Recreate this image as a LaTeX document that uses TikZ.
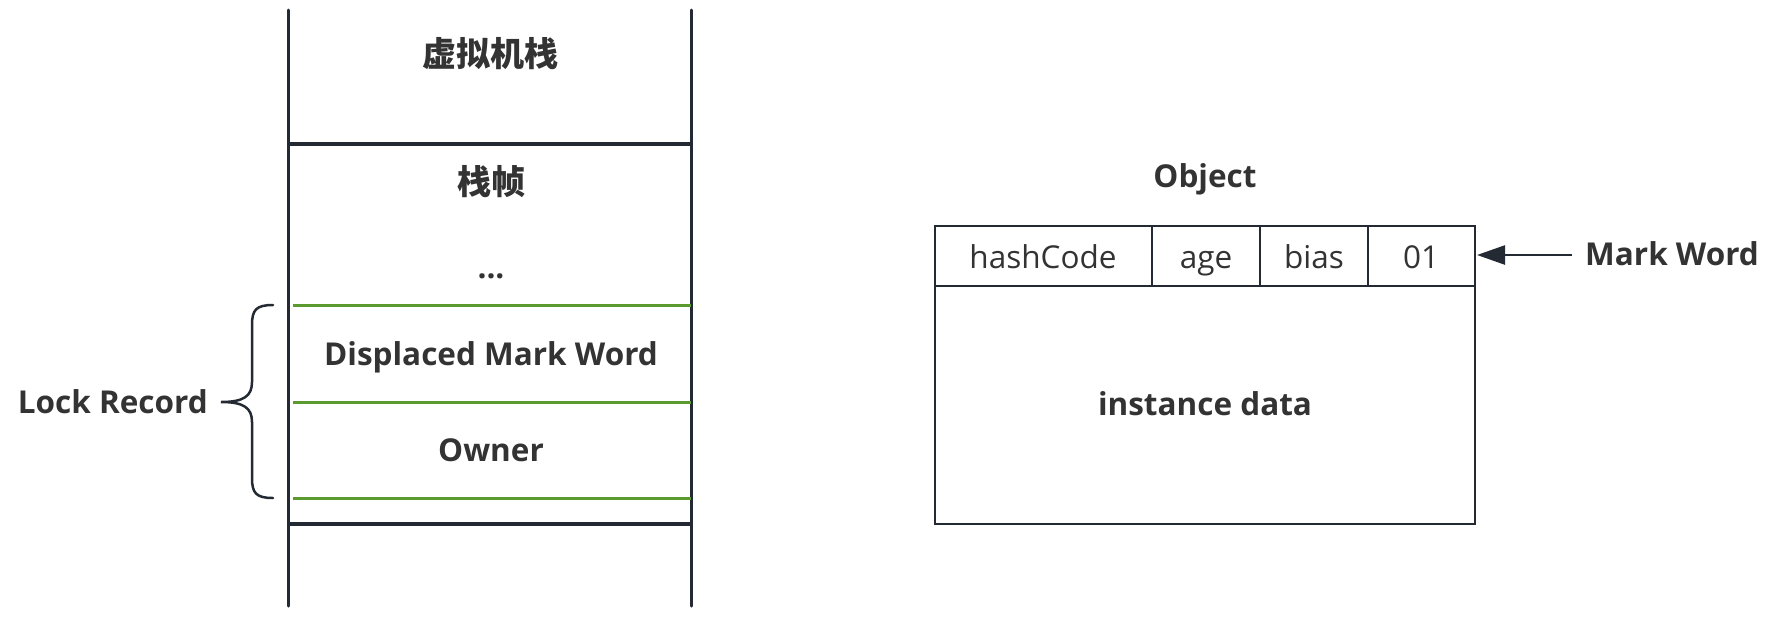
\documentclass[tikz,border=0pt]{standalone}
\usepackage{fontspec}
\setmainfont{Open Sans}
\newfontfamily\cjk{Noto Sans CJK SC}
\usetikzlibrary{arrows.meta}
\definecolor{ink}{HTML}{232A33}
\definecolor{txt}{HTML}{333333}
\definecolor{grn}{HTML}{5A9A2E}
\tikzset{
  stackline/.style={draw=ink,line width=3pt,line cap=round},
  sepline/.style={draw=ink,line width=4.5pt},
  greenline/.style={draw=grn,line width=3pt},
  boxline/.style={draw=ink,line width=2.5pt},
  bold/.style={text=txt,font=\fontsize{31.5}{36}\selectfont\bfseries,inner sep=0pt,anchor=base},
  cjkbold/.style={text=txt,font=\cjk\fontsize{34}{38}\selectfont\bfseries,inner sep=0pt},
  plain/.style={text=txt,font=\fontsize{31.5}{36}\selectfont,inner sep=0pt,anchor=base},
}
\begin{document}
\begin{tikzpicture}[x=1pt,y=-1pt]
\useasboundingbox (0,0) rectangle (1782,624);
% stack
\draw[stackline] (288,10) -- (288,606);
\draw[stackline] (691,10) -- (691,606);
\draw[sepline] (288,144) -- (691,144);
\draw[sepline] (288,524) -- (691,524);
\draw[greenline] (293,305) -- (691,305);
\draw[greenline] (293,402) -- (691,402);
\draw[greenline] (293,498) -- (691,498);
\node[cjkbold] (vms) at (490,54) {虚拟机栈};
\node[cjkbold] (frame) at (491,182) {栈帧};
\node[bold] (dots) at (491,278) {...};
\node[bold] (dmw) at (491,365) {Displaced Mark Word};
\node[bold] (owner) at (491,461) {Owner};
% brace
\coordinate (bt) at (273,305);
\coordinate (bb) at (273,498);
\coordinate (btip) at (221,402);
\draw[draw=ink,line width=2.5pt,line cap=round]
  (bt) .. controls (256,305) and (252,310) .. (252,325) -- (252,382)
  .. controls (252,396) and (244,402) .. (btip)
  .. controls (244,402) and (252,408) .. (252,422) -- (252,478)
  .. controls (252,493) and (256,498) .. (bb);
\node[bold,anchor=base east] (lr) at (208,413) {Lock Record};
% object
\node[bold] (objlbl) at (1205,187) {Object};
\draw[boxline] (935,226) rectangle (1475,524);
\draw[boxline] (935,286) -- (1475,286);
\draw[boxline] (1152,226) -- (1152,286);
\draw[boxline] (1260,226) -- (1260,286);
\draw[boxline] (1368,226) -- (1368,286);
\coordinate (hdr) at (1475,255);
\node[plain] (hc) at (1043,268) {hashCode};
\node[plain] (age) at (1206,268) {age};
\node[plain] (bias) at (1314,268) {bias};
\node[plain] (b01) at (1421,268) {01};
\node[bold] (inst) at (1205,415) {instance data};
\node[bold,anchor=base west] (mw) at (1585,265) {Mark Word};
\coordinate (mwl) at (1572,255);
\draw[draw=ink,line width=2.5pt,-{Triangle[length=28pt,width=19pt]}] (mwl) -- ([xshift=2pt]hdr);
\end{tikzpicture}
\end{document}
